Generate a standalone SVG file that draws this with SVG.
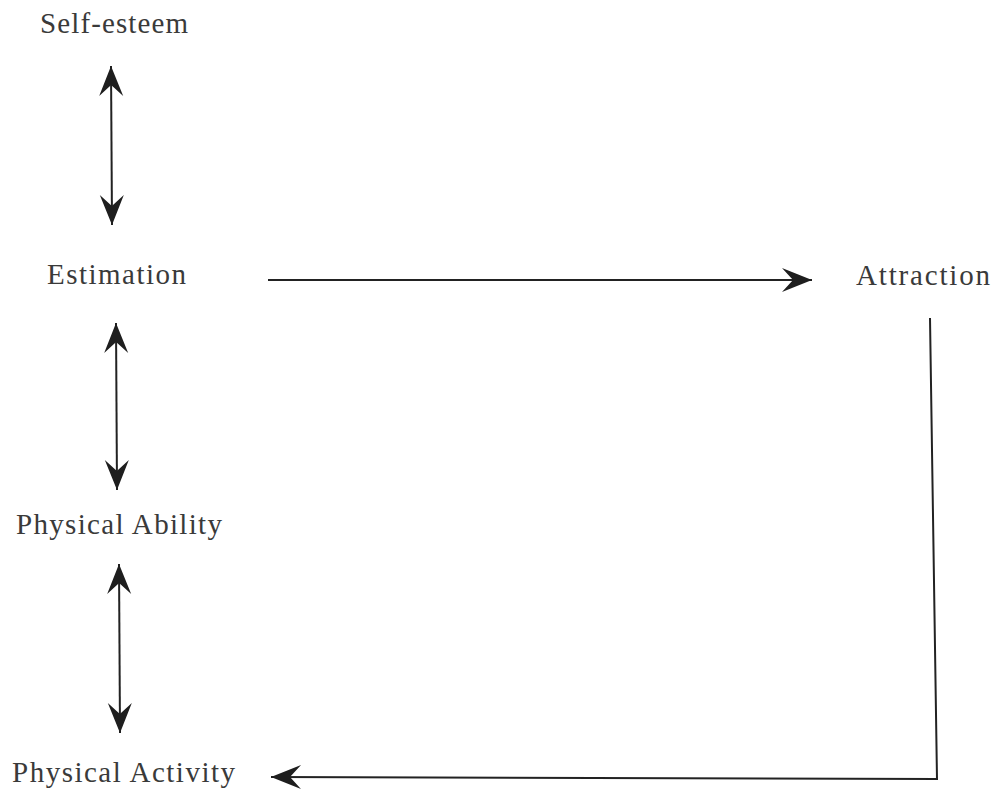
<svg xmlns="http://www.w3.org/2000/svg" width="997" height="793" viewBox="0 0 997 793">
  <style>
    .label { font-family: "Liberation Serif", "DejaVu Serif", serif; font-size: 29px; fill: #3a3a3a; }
    .link { fill: none; stroke: #222; stroke-width: 2; }
  </style>
  <defs>
    <marker id="barb" markerUnits="userSpaceOnUse" markerWidth="40" markerHeight="30" viewBox="-32 -15 34 30" refX="0" refY="0" orient="auto-start-reverse">
      <path d="M0,0 L-30,-12 L-19,0 L-30,12 Z" fill="#1e1e1e"/>
    </marker>
  </defs>
  <rect width="997" height="793" fill="#ffffff"/>

  <g id="node-self-esteem"><text class="label" x="40" y="33" textLength="148" lengthAdjust="spacing">Self-esteem</text></g>
  <g id="node-estimation"><text class="label" x="47" y="284" textLength="139" lengthAdjust="spacing">Estimation</text></g>
  <g id="node-attraction"><text class="label" x="856" y="285" textLength="134" lengthAdjust="spacing">Attraction</text></g>
  <g id="node-physical-ability"><text class="label" x="16" y="534" textLength="206" lengthAdjust="spacing">Physical Ability</text></g>
  <g id="node-physical-activity"><text class="label" x="12" y="782" textLength="223" lengthAdjust="spacing">Physical Activity</text></g>

  <g id="connectors">
    <line class="link" x1="111" y1="66" x2="112" y2="225" marker-start="url(#barb)" marker-end="url(#barb)"/>
    <line class="link" x1="116" y1="323" x2="117" y2="490" marker-start="url(#barb)" marker-end="url(#barb)"/>
    <line class="link" x1="119" y1="564" x2="120" y2="733" marker-start="url(#barb)" marker-end="url(#barb)"/>
    <line class="link" x1="268" y1="280" x2="812" y2="280" marker-end="url(#barb)"/>
    <polyline class="link" points="930,318 937,779 271,777" marker-end="url(#barb)"/>
  </g>
</svg>
